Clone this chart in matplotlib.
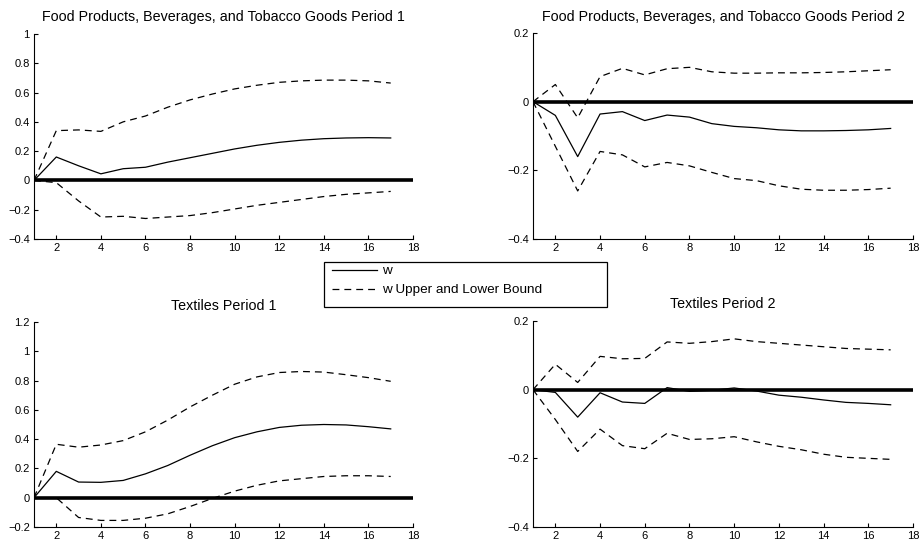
import matplotlib
matplotlib.use("Agg")
import matplotlib.pyplot as plt
from matplotlib.lines import Line2D
from matplotlib.patches import Rectangle

plt.rcParams['font.family'] = ['Liberation Sans', 'DejaVu Sans']

horizon = list(range(1, 18))

# Food products, period 1
fp1_w = [0, 0.16, 0.10, 0.045, 0.08, 0.09, 0.125, 0.155, 0.185, 0.215, 0.24, 0.26, 0.275, 0.285, 0.29, 0.292, 0.29]
fp1_up = [0, 0.34, 0.345, 0.335, 0.40, 0.44, 0.50, 0.55, 0.59, 0.625, 0.65, 0.67, 0.68, 0.685, 0.685, 0.68, 0.665]
fp1_lo = [0, -0.015, -0.14, -0.25, -0.245, -0.26, -0.25, -0.24, -0.22, -0.195, -0.17, -0.15, -0.13, -0.11, -0.095, -0.085, -0.075]

# Food products, period 2
fp2_w = [0, -0.04, -0.16, -0.036, -0.029, -0.055, -0.039, -0.045, -0.064, -0.072, -0.076, -0.082, -0.085, -0.085, -0.084, -0.082, -0.078]
fp2_up = [0, 0.05, -0.047, 0.073, 0.097, 0.078, 0.096, 0.10, 0.087, 0.083, 0.083, 0.084, 0.084, 0.085, 0.087, 0.09, 0.093]
fp2_lo = [0, -0.13, -0.26, -0.145, -0.155, -0.19, -0.177, -0.187, -0.206, -0.224, -0.23, -0.245, -0.255, -0.258, -0.258, -0.256, -0.252]

# Textiles, period 1
tx1_w = [0, 0.18, 0.107, 0.105, 0.118, 0.163, 0.22, 0.29, 0.355, 0.41, 0.45, 0.48, 0.495, 0.50, 0.497, 0.485, 0.47]
tx1_up = [0, 0.365, 0.345, 0.36, 0.39, 0.45, 0.53, 0.62, 0.70, 0.775, 0.825, 0.855, 0.862, 0.858, 0.84, 0.82, 0.795]
tx1_lo = [0, 0.0, -0.135, -0.155, -0.155, -0.14, -0.11, -0.06, -0.005, 0.045, 0.085, 0.115, 0.13, 0.145, 0.15, 0.15, 0.145]

# Textiles, period 2
tx2_w = [0, -0.008, -0.08, -0.009, -0.036, -0.04, 0.006, -0.005, -0.002, 0.005, -0.004, -0.016, -0.022, -0.03, -0.037, -0.04, -0.044]
tx2_up = [0, 0.074, 0.021, 0.097, 0.09, 0.091, 0.139, 0.135, 0.14, 0.148, 0.14, 0.135, 0.13, 0.125, 0.12, 0.118, 0.116]
tx2_lo = [0, -0.087, -0.18, -0.115, -0.163, -0.172, -0.127, -0.145, -0.143, -0.137, -0.152, -0.165, -0.175, -0.188, -0.197, -0.20, -0.203]

titles = [
    "Food Products, Beverages, and Tobacco Goods Period 1",
    "Food Products, Beverages, and Tobacco Goods Period 2",
    "Textiles Period 1",
    "Textiles Period 2",
]
panels = [(fp1_w, fp1_up, fp1_lo), (fp2_w, fp2_up, fp2_lo),
          (tx1_w, tx1_up, tx1_lo), (tx2_w, tx2_up, tx2_lo)]
ylims = [(-0.4, 1.0), (-0.4, 0.2), (-0.2, 1.2), (-0.4, 0.2)]
yticks = [
    [-0.4, -0.2, 0, 0.2, 0.4, 0.6, 0.8, 1],
    [-0.4, -0.2, 0, 0.2],
    [-0.2, 0, 0.2, 0.4, 0.6, 0.8, 1, 1.2],
    [-0.4, -0.2, 0, 0.2],
]
# axes boxes in pixels: left, right, top, bottom
boxes = [(34, 413, 34, 239), (533, 913, 33, 239), (34, 413, 322, 527), (533, 913, 321, 527)]

W, H = 921, 549
fig = plt.figure(figsize=(W / 100, H / 100), dpi=100)

def fmt(v):
    if abs(v) < 1e-9:
        return "0"
    s = ("%g" % v)
    return s.replace("-", "\u2212")

dash = (0, (5.5, 4))
for (l, r, t, b), title, (w, up, lo), yl, yt in zip(boxes, titles, panels, ylims, yticks):
    ax = fig.add_axes([l / W, 1 - b / H, (r - l) / W, (b - t) / H])
    ax.plot([1, 18], [0, 0], color="black", lw=2.6, solid_capstyle="butt")
    ax.plot(horizon, w, color="black", lw=0.9)
    ax.plot(horizon, up, color="black", lw=0.9, linestyle=dash)
    ax.plot(horizon, lo, color="black", lw=0.9, linestyle=dash)
    ax.set_xlim(1, 18)
    ax.set_ylim(*yl)
    ax.set_xticks(range(2, 19, 2))
    ax.set_yticks(yt)
    ax.set_yticklabels([fmt(v) for v in yt])
    ax.spines['top'].set_visible(False)
    ax.spines['right'].set_visible(False)
    ax.spines['left'].set_linewidth(0.8)
    ax.spines['bottom'].set_linewidth(0.8)
    ax.tick_params(direction="in", length=3, width=0.8, labelsize=8, pad=3)
    ax.set_title(title, fontsize=10.3, pad=9)

# legend box frame
fig.patches.append(Rectangle((324 / W, 1 - 307 / H), (607 - 324) / W, (307 - 262) / H,
                             transform=fig.transFigure, facecolor="white",
                             edgecolor="black", lw=0.9, zorder=5))

handles = [
    Line2D([], [], color="black", lw=0.9),
    Line2D([], [], color="black", lw=0.9, linestyle=dash),
]
leg = fig.legend(handles, ["w", "w Upper and Lower Bound"],
                 loc="upper left",
                 bbox_to_anchor=(332 / W, 1 - 265 / H),
                 borderaxespad=0, borderpad=0, frameon=False,
                 fontsize=9.7, handlelength=3.33, handletextpad=0.37,
                 labelspacing=0.48)
leg.set_zorder(6)

fig.savefig("out.png", dpi=100)
